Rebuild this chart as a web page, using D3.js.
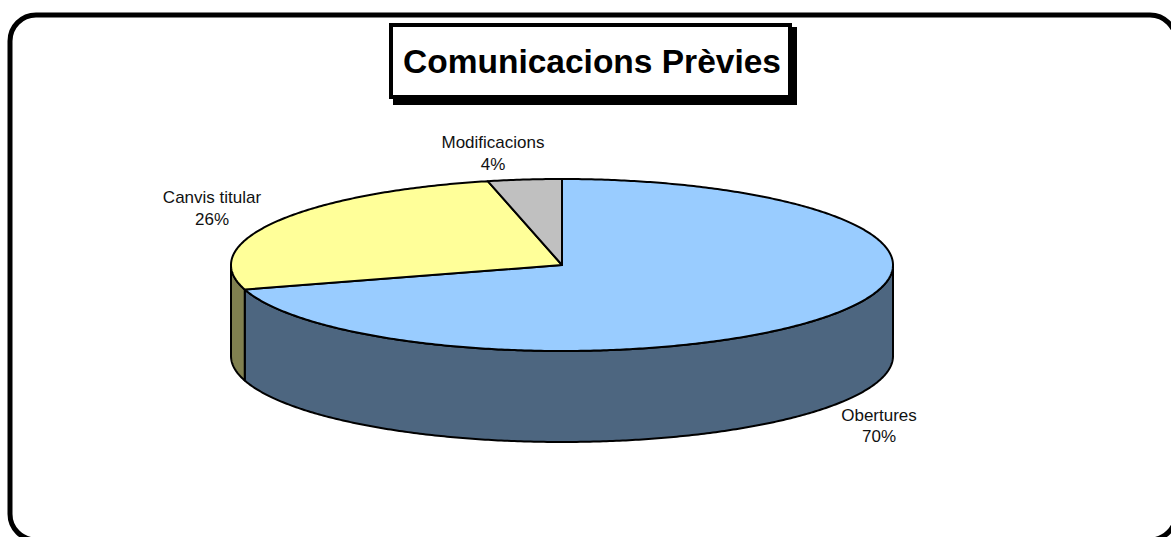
<!DOCTYPE html>
<html><head><meta charset="utf-8">
<script src="https://cdnjs.cloudflare.com/ajax/libs/d3/7.8.5/d3.min.js"></script>
<style>html,body{margin:0;padding:0;background:#fff;overflow:hidden}svg{display:block}
text{font-family:"Liberation Sans",Arial,sans-serif;fill:#111}</style></head>
<body><svg id="c" width="1171" height="537"></svg>
<script>
const categories = ["Obertures","Canvis titular","Modificacions"];
const values = [70.4,26.0,3.6];
const labels = ["70%","26%","4%"];
const topColors = ["#99CCFF","#FFFF99","#C0C0C0"];
const sideColors = ["#4D6680","#808050","#606060"];
const titleText = "Comunicacions Prèvies";

const W=1171,H=537,cx=562,cy=265,rx=331,ry=86,depth=91;
const svg=d3.select("#c");
// frame
svg.append("rect").attr("x",10).attr("y",15).attr("width",1166).attr("height",525)
  .attr("rx",26).attr("ry",26).attr("fill","#fff").attr("stroke","#000").attr("stroke-width",5);
// title
svg.append("rect").attr("x",393).attr("y",27).attr("width",404).attr("height",78).attr("fill","#000");
svg.append("rect").attr("x",391).attr("y",25).attr("width",399).attr("height",72)
  .attr("fill","#fff").attr("stroke","#000").attr("stroke-width",4);
svg.append("text").attr("x",592).attr("y",73).attr("text-anchor","middle")
  .style("font-size","33.5px").style("font-weight","bold").style("fill","#000").text(titleText);

const arcs=d3.pie().sort(null).value(d=>d).startAngle(0).endAngle(2*Math.PI)(values);
const px=d3.scaleLinear().domain([-1,1]).range([cx-rx,cx+rx]);
const py=d3.scaleLinear().domain([-1,1]).range([cy-ry,cy+ry]);
const pt=(a,dz=0)=>[px(Math.sin(a)),py(-Math.cos(a))+dz];
const samples=(a0,a1)=>{const n=Math.max(2,Math.ceil((a1-a0)/0.01));return d3.range(n+1).map(i=>a0+(a1-a0)*i/n);};
const line=d3.line();
const g=svg.append("g").attr("stroke","#000").attr("stroke-width",2).attr("stroke-linejoin","round");
// side walls: only the front half (PI/2..3PI/2) is visible
arcs.forEach((d,i)=>{
  const a0=Math.max(d.startAngle,Math.PI/2),a1=Math.min(d.endAngle,3*Math.PI/2);
  if(a1<=a0)return;
  const s=samples(a0,a1);
  const p=s.map(a=>pt(a)).concat(s.slice().reverse().map(a=>pt(a,depth)));
  g.append("path").attr("d",line(p)+"Z").attr("fill",sideColors[i]);
});
// top faces
arcs.forEach((d,i)=>{
  const p=[[cx,cy]].concat(samples(d.startAngle,d.endAngle).map(a=>pt(a)));
  g.append("path").attr("d",line(p)+"Z").attr("fill",topColors[i]);
});
// labels
const labelPos=[[879,421],[212,203],[493,148]];
const lineGap=[21,22,22];
categories.forEach((c,i)=>{
  const t=svg.append("text").attr("text-anchor","middle").style("font-size","17px");
  t.append("tspan").attr("x",labelPos[i][0]).attr("y",labelPos[i][1]).text(c);
  t.append("tspan").attr("x",labelPos[i][0]).attr("y",labelPos[i][1]+lineGap[i]).text(labels[i]);
});
</script></body></html>
